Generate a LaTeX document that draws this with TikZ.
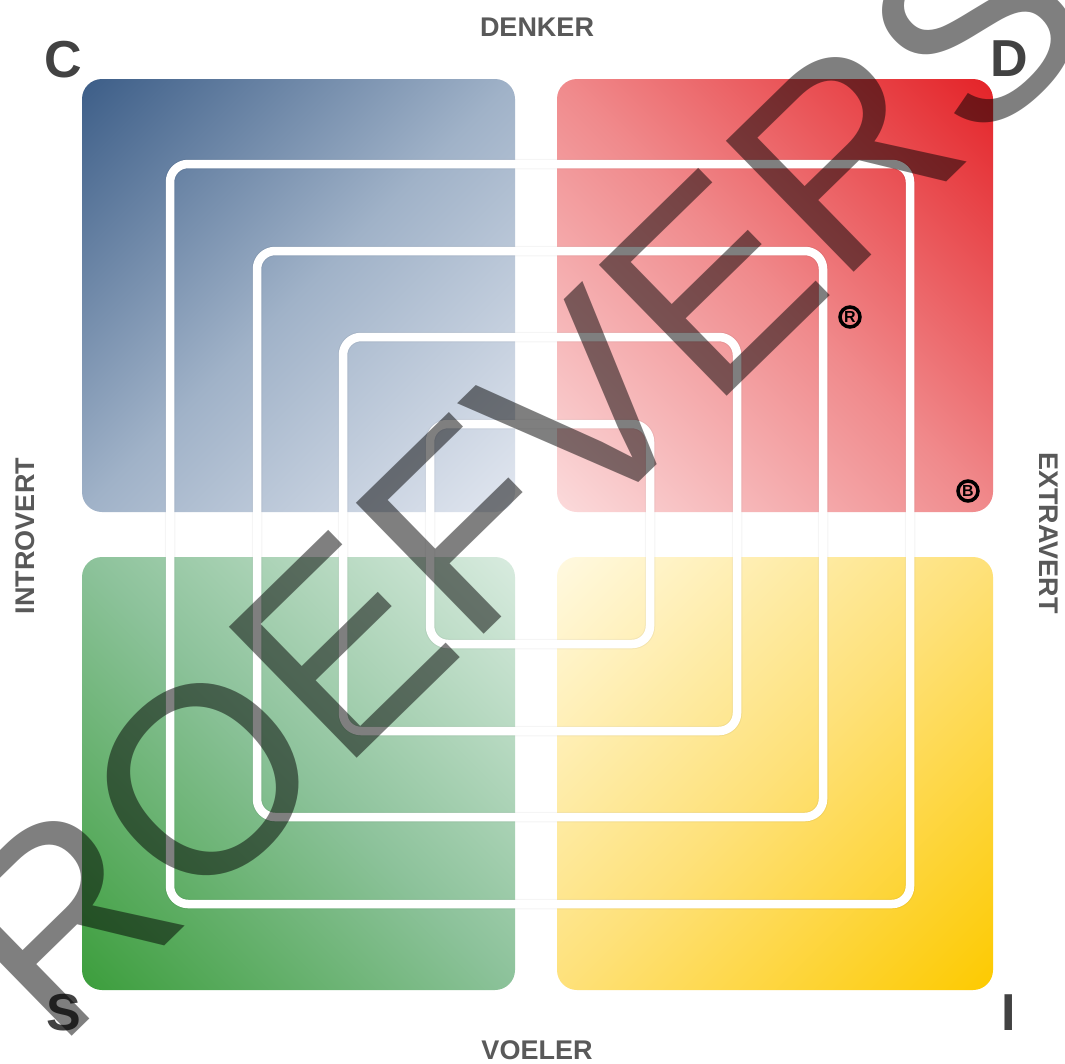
\documentclass[tikz,border=0pt]{standalone}
\usepackage{fontspec}
\setmainfont{Liberation Sans}
\definecolor{bD}{HTML}{3D5E88}
\definecolor{bM}{HTML}{A0B2C8}
\definecolor{bL}{HTML}{E2E7F0}
\definecolor{rD}{HTML}{E42328}
\definecolor{rM}{HTML}{F08A8C}
\definecolor{rL}{HTML}{FBDADB}
\definecolor{gD}{HTML}{3C9E3C}
\definecolor{gM}{HTML}{8CC29A}
\definecolor{gL}{HTML}{D8EBDF}
\definecolor{yD}{HTML}{FDCA00}
\definecolor{yM}{HTML}{FEE17A}
\definecolor{yL}{HTML}{FFF9E0}
\definecolor{lbl}{HTML}{595959}
\definecolor{cornerc}{HTML}{424242}
\pgfdeclareverticalshading{qblue}{100bp}{color(0bp)=(bL);color(14.6bp)=(bL);color(50bp)=(bM);color(85.4bp)=(bD);color(100bp)=(bD)}
\pgfdeclareverticalshading{qred}{100bp}{color(0bp)=(rL);color(14.6bp)=(rL);color(50bp)=(rM);color(85.4bp)=(rD);color(100bp)=(rD)}
\pgfdeclareverticalshading{qgreen}{100bp}{color(0bp)=(gL);color(14.6bp)=(gL);color(50bp)=(gM);color(85.4bp)=(gD);color(100bp)=(gD)}
\pgfdeclareverticalshading{qyellow}{100bp}{color(0bp)=(yL);color(14.6bp)=(yL);color(50bp)=(yM);color(85.4bp)=(yD);color(100bp)=(yD)}
\tikzset{
  quad/.style={rounded corners=20pt},
  ringshade/.style={draw=black, draw opacity=0.045, line width=10.5pt, rounded corners=18pt},
  ring/.style={draw=white, line width=8.5pt, rounded corners=18pt},
  axislabel/.style={text=lbl, font=\bfseries\fontsize{27}{27}\selectfont, inner sep=0pt},
  cornerlabel/.style={text=cornerc, font=\bfseries\fontsize{52}{52}\selectfont, inner sep=0pt},
  badge/.style={circle, draw=black, line width=3.5pt, text=black, inner sep=0pt, minimum size=20pt, font=\bfseries\fontsize{16}{16}\selectfont},
  watermark/.style={text=black, text opacity=0.5, inner sep=0pt, font=\fontsize{266}{266}\selectfont}
}
\begin{document}
\begin{tikzpicture}[x=1pt,y=-1pt]
\useasboundingbox (0,0) rectangle (1065,1063);
\fill[white] (0,0) rectangle (1065,1063);
\clip (0,0) rectangle (1065,1063);
% quadrants
\shade[quad, shading=qblue, shading angle=45] (82,79) rectangle (515,512);
\shade[quad, shading=qred, shading angle=-45] (557,79) rectangle (993,512);
\shade[quad, shading=qgreen, shading angle=135] (82,557) rectangle (515,990);
\shade[quad, shading=qyellow, shading angle=-135] (557,557) rectangle (993,990);
% concentric rings
\foreach \h in {370,283,197,110} {
  \draw[ringshade] ({540-\h},{534-\h}) rectangle ({540+\h},{534+\h});
  \draw[ring] ({540-\h},{534-\h}) rectangle ({540+\h},{534+\h});
}
% labels
\node[axislabel] (denker) at (537,27) {DENKER};
\node[axislabel] (voeler) at (537,1050) {VOELER};
\node[axislabel, rotate=90] (intro) at (25,536) {INTROVERT};
\node[axislabel, rotate=-90] (extra) at (1049,533) {EXTRAVERT};
\node[cornerlabel] (c) at (63,60) {C};
\node[cornerlabel] (d) at (1009,59) {D};
\node[cornerlabel] (s) at (64,1013) {S};
\node[cornerlabel] (i) at (1009,1013) {I};
\node[badge] (reg) at (850,317) {R};
\node[badge] (brand) at (968,491) {B};
% watermark
\node[watermark, rotate=44.3, anchor=base west] (wm) at (56,1052) {ROEFVERS};
\end{tikzpicture}
\end{document}
